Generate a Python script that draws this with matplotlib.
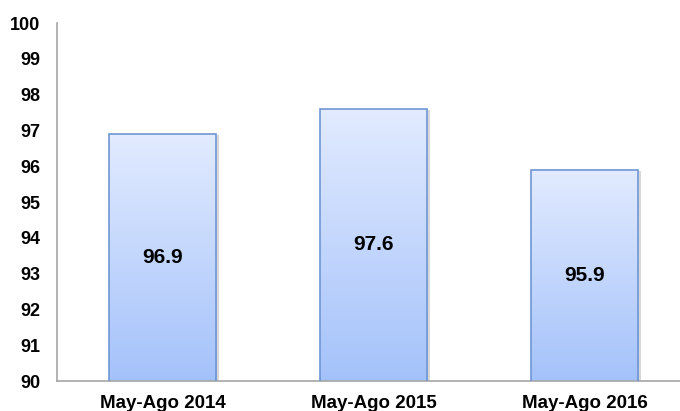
import matplotlib
matplotlib.use("Agg")
import matplotlib.pyplot as plt
import numpy as np
from matplotlib.colors import LinearSegmentedColormap

categories = ["May-Ago 2014", "May-Ago 2015", "May-Ago 2016"]
values = [96.9, 97.6, 95.9]
yticks = [90, 91, 92, 93, 94, 95, 96, 97, 98, 99, 100]

plt.rcParams['font.family'] = ['Liberation Sans', 'DejaVu Sans']

fig = plt.figure(figsize=(6.8, 4.11), dpi=100)
ax = fig.add_axes([57/680, 30/411, 633/680, 358/411])

x = np.arange(len(categories))
bars = ax.bar(x, values, width=0.51, bottom=0, color='none',
              edgecolor='#6f96d3', linewidth=1.2, zorder=3)
ax.set_xlim(-0.5, len(categories) - 0.5)
ax.set_ylim(90, 100)

cmap = LinearSegmentedColormap.from_list('g', ['#a4c2fa', '#e2ebff'])
grad = np.linspace(0, 1, 256).reshape(-1, 1)
for b, v in zip(bars, values):
    x0 = b.get_x(); w = b.get_width()
    # shadow
    ax.bar(x0 + w/2 + 0.012, v - 90 - 0.03, width=w, bottom=90, color='#d8d8d8',
           zorder=1, linewidth=0)
    im = ax.imshow(grad, extent=[x0, x0 + w, 90, v], origin='lower',
                   cmap=cmap, aspect='auto', zorder=2)
    im.set_clip_path(b)
    ax.text(x0 + w/2, (90 + v)/2, f"{v:.1f}", ha='center', va='center',
            fontsize=15, fontweight='bold', color='black', zorder=4)

ax.set_xlim(-0.5, len(categories) - 0.5)
ax.set_ylim(90, 100)
ax.set_xticks(x)
ax.set_xticklabels(categories, fontsize=13.5, fontweight='bold')
ax.set_yticks(yticks)
ax.set_yticklabels([str(t) for t in yticks], fontsize=13, fontweight='bold')
ax.tick_params(length=0)
ax.tick_params(axis='y', pad=12)
ax.tick_params(axis='x', pad=10)
for s in ['top', 'right']:
    ax.spines[s].set_visible(False)
for s in ['left', 'bottom']:
    ax.spines[s].set_color('#a6a6a6')
    ax.spines[s].set_linewidth(1.2)

fig.savefig('out.png', dpi=100)
